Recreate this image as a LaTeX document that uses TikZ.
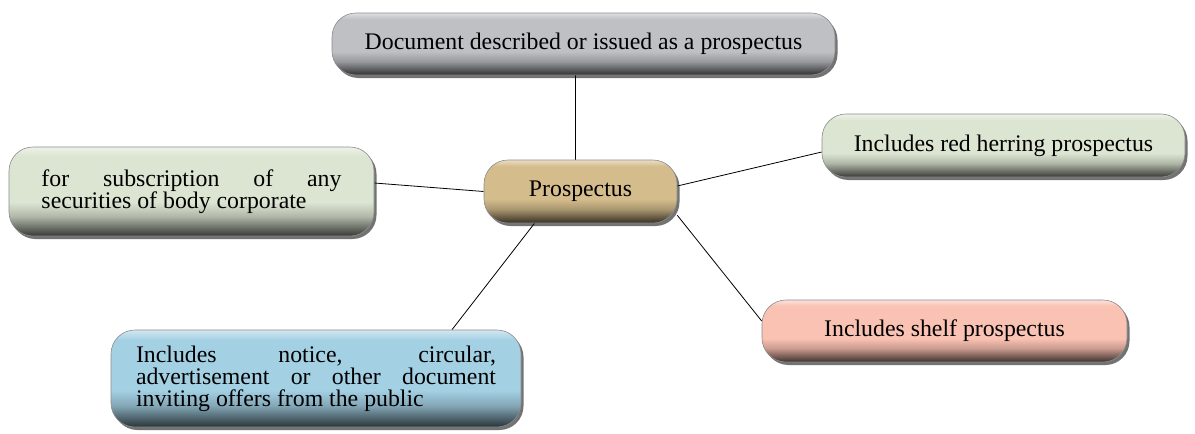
\documentclass[tikz,border=0pt]{standalone}
\usepackage{fontspec}
\setmainfont{Liberation Serif}
\usetikzlibrary{shadows,backgrounds}
\colorlet{bc}{gray}
\pgfdeclareverticalshading[bc]{bevel}{100bp}{color(0bp)=(bc!25!black); color(25bp)=(bc!25!black); color(30bp)=(bc!50!black); color(36bp)=(bc!80!black); color(44bp)=(bc); color(70bp)=(bc); color(75bp)=(bc!50!white); color(100bp)=(bc!50!white)}
\definecolor{cgray}{RGB}{190,192,196}
\definecolor{ctan}{RGB}{212,188,140}
\definecolor{cgreen}{RGB}{220,229,210}
\definecolor{cblue}{RGB}{164,208,228}
\definecolor{cpink}{RGB}{250,194,178}
\tikzset{
  bcol/.code={\colorlet{bc}{#1}},
  box/.style={shape=rectangle, rounded corners=24pt, draw=black!45, line width=0.6pt,
    shading=bevel, drop shadow={shadow xshift=2.5pt, shadow yshift=-3pt, opacity=0.55, fill=black},
    font=\fontsize{23.8}{22}\selectfont, align=center, inner sep=0pt},
  link/.style={draw=black, line width=0.8pt}
}
\begin{document}
\begin{tikzpicture}[x=1pt,y=-1pt]
\useasboundingbox (0,0) rectangle (1195,434);
\node[box, bcol=cgray, minimum width=503pt, minimum height=62pt] (top) at (583.5,44) {Document described or issued as a prospectus};
\node[box, bcol=ctan, minimum width=193pt, minimum height=63pt] (pros) at (580.5,191.5) {Prospectus};
\node[box, bcol=cgreen, minimum width=365pt, minimum height=89pt, text width=300pt, align=justify] (left) at (191.5,191.5) {for subscription of any\linebreak securities of body corporate};
\node[box, bcol=cblue, minimum width=410pt, minimum height=97pt, text width=360pt, align=justify] (bl) at (316,378.5) {Includes notice, circular,\linebreak advertisement or other document\linebreak inviting offers from the public};
\node[box, bcol=cgreen, minimum width=363pt, minimum height=63pt] (rt) at (1003.5,145.5) {Includes red herring prospectus};
\node[box, bcol=cpink, minimum width=365pt, minimum height=62pt] (rb) at (944.5,331) {Includes shelf prospectus};
\begin{scope}[on background layer]
\draw[link] ([xshift=-8.5pt]top.south) -- ([xshift=-5.5pt]pros.north);
\draw[link] ([yshift=8.5pt]left.east) -- (pros.west);
\draw[link] ([yshift=5.5pt]pros.east) -- ([yshift=-6.5pt]rt.west);
\draw[link] ([xshift=136pt]bl.north) -- ([xshift=-46pt]pros.south);
\draw[link] ([yshift=8pt]pros.south east) -- ([yshift=10pt]rb.west);
\end{scope}
\end{tikzpicture}
\end{document}
